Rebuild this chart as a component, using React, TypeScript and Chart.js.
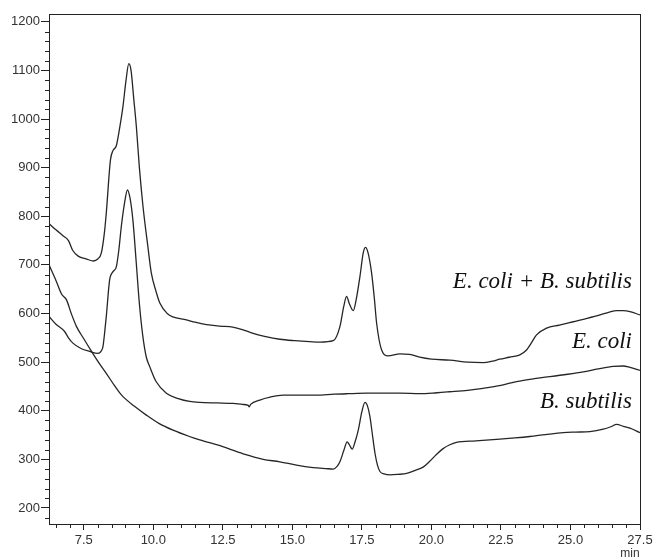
import React, { useEffect, useRef } from "react";
import { Chart, registerables } from "chart.js";

Chart.register(...registerables);

// ---- data (retention time in min, detector signal) ----
const mixTime = [6.25, 6.5, 6.75, 6.95, 7.1, 7.3, 7.6, 7.85, 8.0, 8.13, 8.25, 8.31, 8.46, 8.55, 8.67, 8.8, 8.91, 9.02, 9.12, 9.2, 9.3, 9.39, 9.5, 9.63, 9.8, 9.93, 10.1, 10.23, 10.5, 10.7, 11.19, 11.5, 11.91, 12.4, 12.86, 13.2, 13.59, 14.0, 14.55, 15.1, 15.63, 16.0, 16.47, 16.71, 16.85, 16.95, 17.05, 17.19, 17.3, 17.43, 17.55, 17.63, 17.72, 17.85, 17.95, 18.03, 18.21, 18.44, 18.87, 19.22, 19.58, 20.0, 20.66, 21.3, 21.86, 22.2, 22.46, 22.8, 23.18, 23.42, 23.6, 23.78, 24.14, 24.6, 25.1, 25.6, 26.06, 26.4, 26.66, 26.9, 27.14, 27.5];
const mixSignal = [785, 772, 760, 750, 730, 718, 712, 708, 712, 724, 770, 807, 916, 935, 945, 985, 1026, 1080, 1114, 1100, 1040, 985, 900, 820, 740, 683, 645, 622, 600, 593, 587, 582, 577, 574, 572, 567, 559, 553, 547, 544, 542, 541, 544, 573, 615, 635, 620, 606, 630, 676, 725, 736, 725, 683, 630, 580, 525, 513, 517, 516, 510, 506, 504, 500, 499, 502, 506, 510, 515, 525, 540, 556, 570, 576, 583, 590, 597, 603, 606, 606, 604, 597];

const ecoliTime = [6.25, 6.5, 6.81, 6.95, 7.11, 7.4, 7.71, 8.01, 8.12, 8.19, 8.25, 8.31, 8.43, 8.55, 8.67, 8.76, 8.85, 8.96, 9.07, 9.17, 9.27, 9.38, 9.5, 9.62, 9.75, 9.87, 10.1, 10.47, 10.9, 11.31, 11.67, 12.3, 12.87, 13.2, 13.41, 13.45, 13.5, 13.83, 14.2, 14.67, 15.15, 15.87, 16.5, 17.0, 17.67, 18.3, 18.87, 19.58, 20.2, 20.66, 21.3, 21.86, 22.5, 23.06, 23.7, 24.26, 24.9, 25.46, 26.0, 26.54, 26.9, 27.14, 27.5];
const ecoliSignal = [594, 578, 563, 550, 539, 528, 522, 518, 522, 532, 560, 594, 669, 686, 696, 730, 779, 825, 854, 835, 790, 710, 620, 555, 510, 491, 460, 436, 425, 419, 417, 416, 415, 413, 411, 408, 413, 422, 428, 432, 432, 432, 434, 435, 436, 436, 436, 435, 437, 439, 442, 446, 452, 460, 466, 470, 475, 480, 486, 491, 492, 489, 483];

const bsubTime = [6.25, 6.5, 6.7, 6.88, 7.05, 7.24, 7.5, 7.78, 8.05, 8.31, 8.6, 8.8, 8.91, 9.3, 9.75, 10.2, 10.71, 11.3, 11.67, 11.91, 12.4, 12.75, 13.3, 13.95, 14.55, 15.15, 15.75, 16.2, 16.47, 16.6, 16.71, 16.85, 16.97, 17.05, 17.15, 17.25, 17.37, 17.5, 17.61, 17.7, 17.79, 17.88, 17.97, 18.06, 18.15, 18.3, 18.51, 18.8, 19.11, 19.4, 19.7, 19.94, 20.18, 20.42, 20.66, 20.9, 21.6, 22.34, 23.0, 23.54, 24.1, 24.74, 25.2, 25.7, 26.18, 26.45, 26.66, 26.9, 27.14, 27.5];
const bsubSignal = [700, 668, 640, 628, 600, 573, 548, 522, 498, 477, 452, 436, 429, 410, 391, 374, 360, 347, 340, 336, 328, 321, 310, 300, 295, 288, 283, 281, 280, 285, 295, 318, 336, 330, 321, 335, 360, 398, 417, 410, 388, 350, 313, 288, 275, 270, 268, 269, 271, 277, 284, 296, 310, 322, 330, 335, 338, 341, 344, 347, 351, 355, 356, 357, 362, 367, 372, 368, 364, 355];

const traceNames = ["E. coli + B. subtilis", "E. coli", "B. subtilis"];
const xTickValues = [7.5, 10.0, 12.5, 15.0, 17.5, 20.0, 22.5, 25.0, 27.5];
const yTickValues = [200, 300, 400, 500, 600, 700, 800, 900, 1000, 1100, 1200];
const xUnit = "min";

// label anchors (data coordinates)
const labelAnchorX = 27.21;
const labelAnchorY = [665, 542, 418];

const X_MIN = 6.25;
const X_MAX = 27.5;
const Y_MIN = 167;
const Y_MAX = 1216;

const toPoints = (xs: number[], ys: number[]) => xs.map((x, i) => ({ x, y: ys[i] }));

const AXIS = "#222";
const LINE = "#262626";

const decorPlugin = {
  id: "decor",
  afterDraw(chart: any) {
    const { ctx, chartArea, scales } = chart;
    const xs = scales.x;
    const ys = scales.y;
    ctx.save();
    ctx.strokeStyle = AXIS;
    ctx.lineWidth = 1;
    // frame
    ctx.strokeRect(
      Math.round(chartArea.left) + 0.5,
      Math.round(chartArea.top) + 0.5,
      Math.round(chartArea.right - chartArea.left),
      Math.round(chartArea.bottom - chartArea.top)
    );
    // minor ticks y
    ctx.beginPath();
    for (let v = 180; v <= Y_MAX; v += 20) {
      if (v % 100 === 0) continue;
      const py = Math.round(ys.getPixelForValue(v)) + 0.5;
      ctx.moveTo(chartArea.left - 4, py);
      ctx.lineTo(chartArea.left, py);
    }
    // minor ticks x
    for (let k = 13; k <= 55; k++) {
      const v = k * 0.5;
      if (k % 5 === 0) continue;
      if (v < X_MIN || v > X_MAX) continue;
      const px = Math.round(xs.getPixelForValue(v)) + 0.5;
      ctx.moveTo(px, chartArea.bottom);
      ctx.lineTo(px, chartArea.bottom + 4);
    }
    ctx.stroke();

    // trace labels
    ctx.fillStyle = "#111";
    ctx.font = 'italic 23px "Liberation Serif", "Times New Roman", serif';
    ctx.textAlign = "right";
    ctx.textBaseline = "middle";
    traceNames.forEach((name, i) => {
      ctx.fillText(name, xs.getPixelForValue(labelAnchorX), ys.getPixelForValue(labelAnchorY[i]));
    });

    // unit label
    ctx.fillStyle = "#333";
    ctx.font = '12px "Liberation Sans", Arial, sans-serif';
    ctx.textAlign = "center";
    ctx.textBaseline = "alphabetic";
    ctx.fillText(xUnit, xs.getPixelForValue(X_MAX) - 10, chart.height - 1);
    ctx.restore();
  },
};

export default function App() {
  const ref = useRef<HTMLCanvasElement | null>(null);

  useEffect(() => {
    document.body.style.margin = "0";
    if (!ref.current) return;
    const tickFont = { family: '"Liberation Sans", Arial, sans-serif', size: 13 };
    const chart = new Chart(ref.current, {
      type: "line",
      data: {
        datasets: [
          { label: traceNames[0], data: toPoints(mixTime, mixSignal) },
          { label: traceNames[1], data: toPoints(ecoliTime, ecoliSignal) },
          { label: traceNames[2], data: toPoints(bsubTime, bsubSignal) },
        ].map((d) => ({
          ...d,
          borderColor: LINE,
          borderWidth: 1.3,
          pointRadius: 0,
          fill: false,
          cubicInterpolationMode: "monotone" as const,
        })),
      },
      options: {
        responsive: false,
        animation: false,
        devicePixelRatio: 1,
        layout: { padding: { left: 0, right: 13, top: 14, bottom: 0 } },
        plugins: { legend: { display: false }, tooltip: { enabled: false } },
        scales: {
          x: {
            type: "linear",
            min: X_MIN,
            max: X_MAX,
            afterBuildTicks: (s: any) => {
              s.ticks = xTickValues.map((v) => ({ value: v }));
            },
            afterFit: (s: any) => {
              s.height = 34;
              s.paddingLeft = 0;
              s.paddingRight = 0;
            },
            ticks: {
              callback: (v: any) => Number(v).toFixed(1),
              font: tickFont,
              color: "#333",
              padding: 3,
              maxRotation: 0,
              autoSkip: false,
            },
            grid: { drawOnChartArea: false, drawTicks: true, tickLength: 6, color: AXIS, tickColor: AXIS },
            border: { display: true, color: AXIS, width: 1 },
          },
          y: {
            type: "linear",
            min: Y_MIN,
            max: Y_MAX,
            afterBuildTicks: (s: any) => {
              s.ticks = yTickValues.map((v) => ({ value: v }));
            },
            afterFit: (s: any) => {
              s.width = 49;
              s.paddingTop = 0;
              s.paddingBottom = 0;
            },
            ticks: {
              callback: (v: any) => String(v),
              font: tickFont,
              color: "#333",
              padding: 1,
              autoSkip: false,
            },
            grid: { drawOnChartArea: false, drawTicks: true, tickLength: 8, color: AXIS, tickColor: AXIS },
            border: { display: true, color: AXIS, width: 1 },
          },
        },
      },
      plugins: [decorPlugin],
    });
    return () => chart.destroy();
  }, []);

  return (
    <div style={{ position: "fixed", left: 0, top: 0, width: 653, height: 558, background: "#fff" }}>
      <canvas ref={ref} width={653} height={558} style={{ display: "block" }} />
    </div>
  );
}
